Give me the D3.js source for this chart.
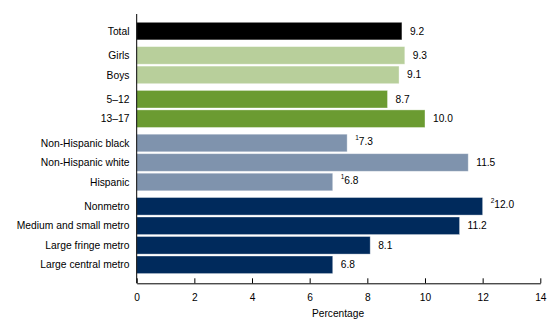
<!DOCTYPE html>
<html>
<head>
<meta charset="utf-8">
<script src="https://cdn.jsdelivr.net/npm/d3@7"></script>
<style>
  html, body { margin: 0; padding: 0; background: #fff; }
  svg { display: block; font-family: Arial, "Liberation Sans", sans-serif; }
</style>
</head>
<body>
<svg id="chart" width="560" height="331"></svg>
<script>
const categories = ["Total", "Girls", "Boys", "5–12", "13–17", "Non-Hispanic black", "Non-Hispanic white", "Hispanic", "Nonmetro", "Medium and small metro", "Large fringe metro", "Large central metro"];
const values = [9.2, 9.3, 9.1, 8.7, 10.0, 7.3, 11.5, 6.8, 12.0, 11.2, 8.1, 6.8];
const groups = ["total", "sex", "sex", "age", "age", "race", "race", "race", "urban", "urban", "urban", "urban"];
const notes = ["", "", "", "", "", "1", "", "1", "2", "", "", ""];
const xTicks = [0, 2, 4, 6, 8, 10, 12, 14];
const xTitle = "Percentage";

const groupNames = ["total", "sex", "age", "race", "urban"];
const color = d3.scaleOrdinal().domain(groupNames)
  .range(["#000000", "#b8cf9b", "#6b9b31", "#7f93ad", "#002a5c"]);

const data = categories.map((c, i) => ({ cat: c, val: values[i], grp: groups[i], note: notes[i] }));
// slot position: index plus extra spacing for each group change
const gapFrac = 0.246;
let gIdx = -1, prev = null;
data.forEach((d, i) => {
  if (d.grp !== prev) { gIdx++; prev = d.grp; }
  d.pos = i + gIdx * gapFrac;
});
const maxPos = d3.max(data, d => d.pos);

const svg = d3.select("#chart");
const x0 = 136.7, x1 = 540.3;
const x = d3.scaleLinear().domain([0, 14]).range([x0, x1]);
const y = d3.scaleLinear().domain([0, maxPos]).range([22.3, 256]);
const barH = 17.6;
const axisY = 283.3;

// bars
svg.append("g").selectAll("rect").data(data).join("rect")
  .attr("x", x(0))
  .attr("y", d => y(d.pos))
  .attr("width", d => x(d.val) - x(0))
  .attr("height", barH)
  .attr("fill", d => color(d.grp))
  .attr("stroke", "#ffffff")
  .attr("stroke-opacity", 0.45)
  .attr("stroke-width", 0.8);

// category labels
svg.append("g").selectAll("text").data(data).join("text")
  .attr("x", 129.5)
  .attr("y", d => y(d.pos) + barH / 2)
  .attr("dy", "0.35em")
  .attr("text-anchor", "end")
  .attr("font-size", 10.3)
  .attr("fill", "#000")
  .text(d => d.cat);

// value labels
const vl = svg.append("g").selectAll("text").data(data).join("text")
  .attr("x", d => x(d.val) + 8)
  .attr("y", d => y(d.pos) + barH / 2)
  .attr("dy", "0.35em")
  .attr("font-size", 10.2)
  .attr("fill", "#000");
vl.each(function(d) {
  const t = d3.select(this);
  if (d.note) {
    t.append("tspan").attr("font-size", 6.5).attr("dy", "-0.5em").text(d.note);
    t.append("tspan").attr("dy", "0.5em").attr("font-size", 10.2).text(d.val.toFixed(1));
  } else {
    t.text(d.val.toFixed(1));
  }
});

// y axis line
svg.append("line")
  .attr("x1", x0).attr("x2", x0)
  .attr("y1", 14).attr("y2", axisY)
  .attr("stroke", "#000").attr("stroke-width", 1);

// x axis
const xAxis = d3.axisBottom(x).tickValues(xTicks).tickSizeInner(-5).tickSizeOuter(0).tickPadding(10)
  .tickFormat(d3.format("d"));
const gx = svg.append("g").attr("transform", `translate(0,${axisY})`).call(xAxis);
gx.select(".domain").attr("stroke", "#000");
gx.selectAll(".tick line").attr("stroke", "#000");
gx.selectAll(".tick text").attr("font-size", 10.2).attr("fill", "#000")
  .attr("font-family", "Arial, 'Liberation Sans', sans-serif");

svg.append("text")
  .attr("x", (x(0) + x(14)) / 2 - 0.5)
  .attr("y", 316.5)
  .attr("text-anchor", "middle")
  .attr("font-size", 10.2)
  .attr("fill", "#000")
  .text(xTitle);
</script>
</body>
</html>
